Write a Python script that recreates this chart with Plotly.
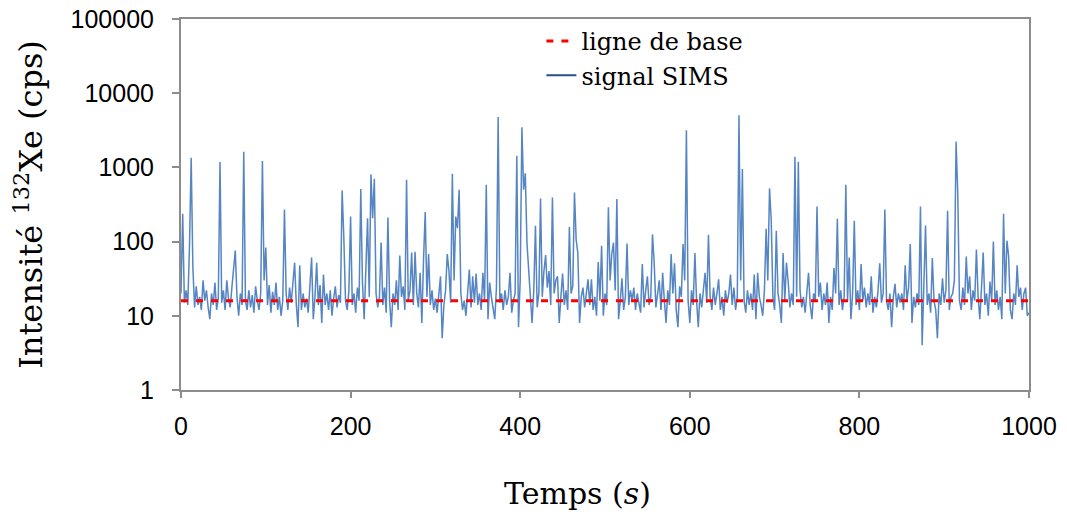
import plotly.graph_objects as go

# Temps (s), un point toutes les 2 s
temps = list(range(0, 1001, 2))

# Signal SIMS 132Xe (cps)
signal_sims = [
    20, 237, 15, 22, 14, 86, 1350, 45, 13, 25, 14, 18, 12, 30, 16, 22, 13, 9, 20, 14, 28, 12, 17, 1180, 15,
    22, 12, 30, 17, 13, 24, 45, 76, 18, 10, 20, 14, 1620, 16, 12, 22, 13, 19, 11, 25, 16, 12, 20, 1220, 30,
    83, 14, 26, 11, 21, 14, 28, 12, 18, 10, 16, 270, 20, 12, 24, 15, 28, 52, 14, 7, 48, 12, 20, 13, 17,
    11, 25, 61, 9, 18, 52, 14, 26, 8, 36, 14, 20, 12, 22, 10, 17, 25, 13, 19, 15, 490, 115, 16, 12, 22,
    218, 14, 20, 11, 24, 16, 510, 28, 9, 40, 207, 18, 805, 207, 705, 20, 13, 18, 97, 14, 24, 11, 211, 16, 7,
    20, 14, 30, 12, 65, 18, 25, 12, 680, 16, 22, 71, 14, 73, 20, 13, 38, 8, 57, 250, 18, 68, 14, 22, 12,
    17, 11, 20, 34, 5, 14, 22, 68, 40, 15, 820, 30, 218, 152, 500, 20, 12, 16, 10, 24, 42, 13, 34, 15, 37,
    14, 20, 12, 38, 16, 585, 9, 28, 18, 13, 9, 24, 4790, 15, 20, 12, 22, 14, 18, 38, 11, 16, 20, 1440, 7,
    30, 3470, 500, 835, 95, 40, 16, 8, 22, 163, 13, 20, 380, 18, 40, 66, 24, 40, 14, 394, 20, 30, 34, 8, 18,
    37, 14, 22, 12, 157, 20, 25, 460, 106, 70, 8, 18, 24, 13, 20, 31, 14, 31, 12, 18, 10, 53, 16, 88, 10,
    20, 14, 290, 30, 68, 97, 22, 374, 9, 16, 32, 12, 18, 94, 14, 22, 16, 24, 12, 20, 15, 11, 50, 13, 22,
    34, 14, 18, 125, 52, 13, 20, 30, 12, 38, 16, 8, 22, 14, 68, 20, 51, 12, 7, 25, 18, 93, 30, 3170, 16,
    8, 22, 14, 70, 16, 7, 20, 13, 25, 38, 15, 124, 18, 12, 24, 14, 20, 31, 12, 18, 10, 22, 15, 20, 36,
    14, 24, 12, 18, 5030, 30, 950, 16, 11, 22, 14, 20, 12, 36, 9, 38, 18, 14, 10, 22, 149, 30, 521, 197, 18,
    12, 140, 20, 14, 8, 70, 16, 52, 29, 13, 20, 14, 1395, 18, 1195, 22, 13, 18, 11, 20, 38, 14, 9, 20, 16,
    297, 18, 28, 12, 20, 14, 28, 8, 18, 12, 44, 20, 203, 14, 22, 12, 18, 585, 16, 61, 9, 20, 191, 14, 22,
    12, 50, 16, 24, 13, 20, 14, 34, 11, 18, 13, 22, 51, 15, 20, 270, 16, 12, 20, 7, 18, 27, 13, 20, 15,
    20, 12, 48, 16, 24, 93, 8, 18, 13, 20, 14, 297, 4, 22, 165, 14, 20, 11, 60, 16, 12, 5, 20, 14, 32,
    15, 22, 261, 12, 18, 20, 30, 2240, 437, 16, 12, 24, 14, 63, 20, 34, 12, 22, 16, 78, 18, 9, 24, 71, 14,
    20, 10, 29, 16, 100, 14, 22, 12, 18, 9, 237, 20, 103, 63, 12, 9, 20, 14, 48, 18, 24, 12, 20, 24, 10,
    11,
]

# Ligne de base (cps)
base_x = [0, 1000]
base_y = [16, 16]

y_tickvals = [1, 10, 100, 1000, 10000, 100000]
y_ticktext = ["1", "10", "100", "1000", "10000", "100000"]
x_tickvals = [0, 200, 400, 600, 800, 1000]

serif = "DejaVu Serif"
sans = "Liberation Sans"

fig = go.Figure()

# signal
fig.add_trace(go.Scatter(
    x=temps, y=signal_sims, mode="lines", showlegend=False,
    line=dict(color="#5585c2", width=1.5),
))
# baseline drawn on top of the signal
fig.add_trace(go.Scatter(
    x=base_x, y=base_y, mode="lines", name="ligne de base",
    line=dict(color="#ff0000", width=3, dash="7px,8px"),
))
# legend entry for the signal (darker swatch like the original)
fig.add_trace(go.Scatter(
    x=[None], y=[None], mode="lines", name="signal SIMS",
    line=dict(color="#2d4c8e", width=2),
))

fig.update_layout(
    width=1067, height=515,
    margin=dict(l=181, r=38, t=19, b=125),
    paper_bgcolor="white", plot_bgcolor="white",
    legend=dict(
        x=0.425, y=1.0, xanchor="left", yanchor="top",
        font=dict(family=serif, size=24, color="black"),
        bgcolor="rgba(0,0,0,0)", itemwidth=30, tracegroupgap=0,
    ),
    annotations=[
        dict(
            text="Temps (<i>s</i>)", xref="paper", yref="paper",
            x=0.467, y=-0.278, xanchor="center", yanchor="middle",
            showarrow=False, font=dict(family=serif, size=30, color="black"),
        ),
        dict(
            text="Intensité <sup>132</sup>Xe (cps)", xref="paper", yref="paper",
            x=-0.18, y=0.5, xanchor="center", yanchor="middle", textangle=-90,
            showarrow=False, font=dict(family=serif, size=32, color="black"),
        ),
    ],
)

fig.update_xaxes(
    range=[0, 1000], tickvals=x_tickvals, automargin=False,
    showgrid=False, zeroline=False,
    showline=True, mirror=True, linecolor="#8c8c8c", linewidth=2,
    ticks="outside", ticklen=6, tickcolor="#8c8c8c", tickwidth=1.5,
    ticklabelstandoff=7,
    tickfont=dict(family=sans, size=25, color="black"),
)
fig.update_yaxes(
    type="log", range=[0, 5], tickvals=y_tickvals, ticktext=y_ticktext,
    automargin=False,
    showgrid=False, zeroline=False,
    showline=True, mirror=True, linecolor="#8c8c8c", linewidth=2,
    ticks="outside", ticklen=7, tickcolor="#8c8c8c", tickwidth=1.5,
    ticklabelstandoff=13,
    tickfont=dict(family=sans, size=25, color="black"),
)

fig.write_html(
    "out.html",
    config={"displayModeBar": False},
    post_script="document.body.style.margin='0px';",
)
